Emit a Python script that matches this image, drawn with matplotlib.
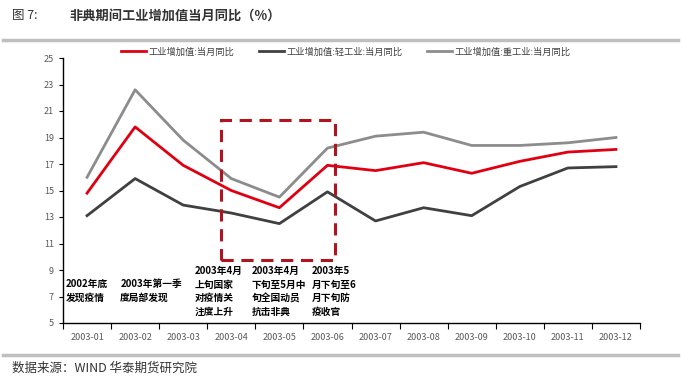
import matplotlib.pyplot as plt
from matplotlib.patches import Rectangle

plt.rcParams['font.family'] = ['Noto Sans CJK SC', 'DejaVu Sans']

months = ['2003-01', '2003-02', '2003-03', '2003-04', '2003-05', '2003-06',
          '2003-07', '2003-08', '2003-09', '2003-10', '2003-11', '2003-12']
total = [14.8, 19.8, 16.9, 15.0, 13.7, 16.9, 16.5, 17.1, 16.3, 17.2, 17.9, 18.1]
light = [13.1, 15.9, 13.9, 13.3, 12.5, 14.9, 12.7, 13.7, 13.1, 15.3, 16.7, 16.8]
heavy = [16.0, 22.6, 18.8, 15.9, 14.5, 18.2, 19.1, 19.4, 18.4, 18.4, 18.6, 19.0]
series_names = ['工业增加值:当月同比', '工业增加值:轻工业:当月同比', '工业增加值:重工业:当月同比']
notes = ['2002年底\n发现疫情', '2003年第一季\n度局部发现', '2003年4月\n上旬国家\n对疫情关\n注度上升',
         '2003年4月\n下旬至5月中\n旬全国动员\n抗击非典', '2003年5\n月下旬至6\n月下旬防\n疫收官']
note_x = [-0.44, 0.69, 2.24, 3.43, 4.68]
note_y = [8.3, 8.3, 9.3, 9.3, 9.3]

fig = plt.figure(figsize=(6.81, 3.76), dpi=100)
ax = fig.add_axes([63 / 681, 1 - 323 / 376, 577 / 681, 265 / 376])

x = list(range(len(months)))
ax.plot(x, total, color='#E00012', lw=2, label=series_names[0])
ax.plot(x, light, color='#404040', lw=2, label=series_names[1])
ax.plot(x, heavy, color='#8C8C8C', lw=2, label=series_names[2])

# dashed box around the SARS peak months
ax.add_patch(Rectangle((2.79, 9.75), 2.36, 10.55, fill=False, ec='#B0141E',
                       lw=2.2, ls=(0, (4, 2.5)), zorder=5))

for t, nx, ny in zip(notes, note_x, note_y):
    ax.text(nx, ny, t, fontsize=7, fontweight='bold', va='top', ha='left',
            linespacing=1.45, color='black')

ax.set_xlim(-0.5, 11.5)
ax.set_ylim(5, 25)
ax.set_yticks(range(5, 26, 2))
ax.set_xticks([i - 0.5 for i in range(13)])
ax.set_xticklabels([])
ax.set_xticks(x, minor=True)
ax.set_xticklabels(months, minor=True)
ax.tick_params(axis='x', which='minor', length=0, pad=7)
ax.tick_params(axis='x', which='major', length=4, direction='out')
ax.tick_params(axis='y', length=3, direction='out')
ax.tick_params(which='both', labelsize=6.5, labelcolor='#595959')
for s in ['top', 'right']:
    ax.spines[s].set_visible(False)
for s in ['left', 'bottom']:
    ax.spines[s].set_color('black')
    ax.spines[s].set_linewidth(1)

fig.legend(loc='center', bbox_to_anchor=(0.508, 1 - 52 / 376), ncol=3, frameon=False,
           fontsize=6.7, handlelength=2.7, columnspacing=2.6, handletextpad=0.3,
           labelcolor='#404040')

fig.text(0.018, 1 - 16 / 376, '图 7:', fontsize=9, va='center', color='#333333')
fig.text(0.102, 1 - 16 / 376, '非典期间工业增加值当月同比（%）', fontsize=9.5, fontweight='bold',
         va='center', color='#333333')
fig.add_artist(plt.Line2D([0.005, 0.995], [1 - 40 / 376] * 2, color='#BFBFBF', lw=2.5))
fig.add_artist(plt.Line2D([0.005, 0.995], [1 - 355 / 376] * 2, color='#BFBFBF', lw=2.5))
fig.text(0.018, 1 - 368 / 376, '数据来源：WIND 华泰期货研究院', fontsize=9, va='center', color='#333333')

fig.savefig('out.png', dpi=100)
